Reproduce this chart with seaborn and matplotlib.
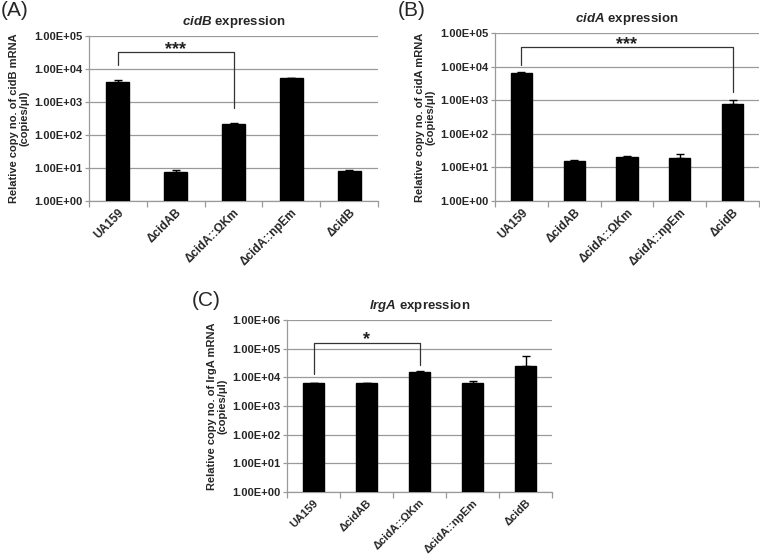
import numpy as np
import pandas as pd
import matplotlib
matplotlib.use("Agg")
import matplotlib.pyplot as plt
from matplotlib.ticker import FuncFormatter, FixedLocator, NullLocator
import seaborn as sns

sns.set_theme(style="white")
plt.rcParams['font.family'] = ['Liberation Sans', 'DejaVu Sans']
plt.rcParams['mathtext.fontset'] = 'custom'
plt.rcParams['mathtext.it'] = 'Liberation Sans:italic:bold'
plt.rcParams['mathtext.rm'] = 'Liberation Sans:bold'

# ---------------- data ----------------
strains = ["UA159", "ΔcidAB", "ΔcidA::ΩKm", "ΔcidA::npEm", "ΔcidB"]

cidB_vals = [4100, 7.8, 215, 5200, 8.3]
cidB_err = [400, 1.0, 15, 250, 0.5]

cidA_vals = [6600, 15, 21, 18.5, 780]
cidA_err = [400, 1.5, 1.5, 6, 220]

lrgA_vals = [6200, 6100, 14900, 6200, 25000]
lrgA_err = [400, 300, 1200, 1300, 32000]

panel_letters = ["(A)", "(B)", "(C)"]
gene_names = ["cidB", "cidA", "lrgA"]
ylabels = ["Relative copy no. of cidB mRNA\n(copies/μl)",
           "Relative copy no. of cidA mRNA\n(copies/μl)",
           "Relative copy no. of lrgA mRNA\n(copies/μl)"]
ymax_exp = [5, 5, 6]

# significance brackets: (left idx, right idx, left drop, right drop, top, stars)
brackets = [
    (0, 2, 1.3e4, 640, 3.2e4, "***"),
    (0, 4, 1.1e4, 1.7e3, 3.8e4, "***"),
    (0, 2, 1.3e4, 2.7e4, 1.6e5, "*"),
]

# axes rectangles in figure fraction
rects = [
    [89 / 760, 1 - 201 / 556, 289 / 760, 165 / 556],
    [495 / 760, 1 - 201 / 556, 264 / 760, 168 / 556],
    [287 / 760, 1 - 492 / 556, 265 / 760, 172 / 556],
]
letter_pos = [(1, 11), (398, 10), (192, 301)]
xlabel_sizes = [8.5, 8.5, 8.0]

fig = plt.figure(figsize=(7.6, 5.56), dpi=100)
fig.patch.set_facecolor("white")

all_vals = [cidB_vals, cidA_vals, lrgA_vals]
all_errs = [cidB_err, cidA_err, lrgA_err]
gray = "#9a9a9a"

for i in range(3):
    ax = fig.add_axes(rects[i])
    df = pd.DataFrame({"strain": strains, "value": all_vals[i]})
    sns.barplot(data=df, x="strain", y="value", color="black", width=0.4,
                errorbar=None, ax=ax, zorder=3, saturation=1)
    for p in ax.patches:
        p.set_edgecolor("black")
        p.set_facecolor("black")
    ax.set_yscale("log")
    ax.set_ylim(1, 10 ** ymax_exp[i])
    ax.set_xlim(-0.5, 4.5)
    ax.errorbar(np.arange(len(strains)), all_vals[i],
                yerr=[np.zeros(len(strains)), all_errs[i]],
                fmt="none", ecolor="black", elinewidth=1.0, capsize=3,
                capthick=1.0, zorder=4)
    ax.yaxis.set_major_locator(FixedLocator([10.0 ** k for k in range(ymax_exp[i] + 1)]))
    ax.yaxis.set_minor_locator(NullLocator())
    ax.yaxis.set_major_formatter(FuncFormatter(lambda v, pos: f"{v:.2E}"))
    ax.grid(axis="y", color=gray, linewidth=0.9, zorder=0)
    ax.set_axisbelow(True)
    for s in ["top", "right"]:
        ax.spines[s].set_visible(False)
    for s in ["left", "bottom"]:
        ax.spines[s].set_color(gray)
        ax.spines[s].set_linewidth(0.9)
    ax.tick_params(axis="y", which="major", length=3, color=gray, width=0.9,
                   labelsize=8, pad=2, left=True)
    for lab in ax.get_yticklabels():
        lab.set_fontweight("bold")
    ax.set_xticks(np.arange(len(strains)))
    ax.set_xticklabels(strains, rotation=45, ha="right", rotation_mode="anchor",
                       fontsize=xlabel_sizes[i], fontweight="bold")
    ax.tick_params(axis="x", which="major", length=0, pad=4)
    ax.set_xticks(np.arange(-0.5, len(strains), 1.0), minor=True)
    ax.tick_params(axis="x", which="minor", length=4, color=gray, width=0.9,
                   bottom=True)
    ax.set_xlabel("")
    ax.set_ylabel(ylabels[i], fontsize=8, fontweight="bold", labelpad=3,
                  linespacing=1.1)
    ax.set_title(r"$\it{" + gene_names[i] + r"}$ expression", fontsize=9.5,
                 fontweight="bold", pad=8)
    l, r, yl, yr, top, stars = brackets[i]
    ax.plot([l, l, r, r], [yl, top, top, yr], color="#333333", lw=0.9, zorder=5,
            clip_on=False)
    ax.text((l + r) / 2, top * 0.9, stars, ha="center", va="baseline",
            fontsize=13, fontweight="bold", color="#222222")
    fig.text(letter_pos[i][0] / 760, 1 - letter_pos[i][1] / 556, panel_letters[i],
             fontsize=15, ha="left", va="center")

fig.savefig("out.png", dpi=100, facecolor="white")
